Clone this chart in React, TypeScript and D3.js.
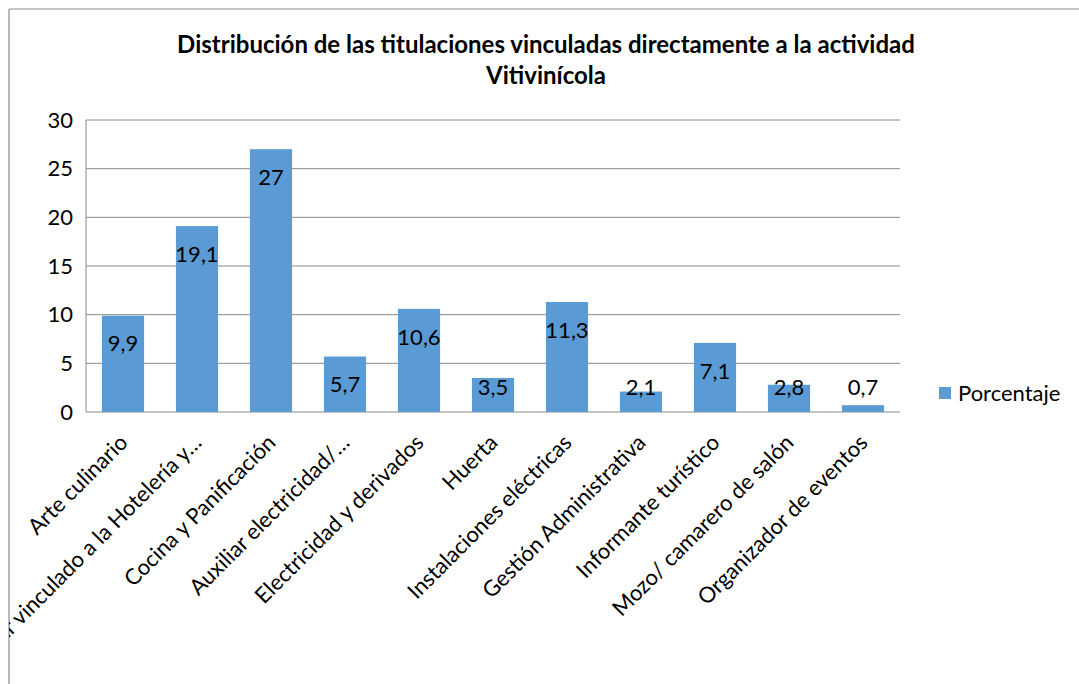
import React from "react";
import * as d3 from "d3";

const categories = [
  "Arte culinario",
  "Auxiliar vinculado a la Hotelería y…",
  "Cocina y Panificación",
  "Auxiliar electricidad/…",
  "Electricidad y derivados",
  "Huerta",
  "Instalaciones eléctricas",
  "Gestión Administrativa",
  "Informante turístico",
  "Mozo/ camarero de salón",
  "Organizador de eventos",
];
const values = [9.9, 19.1, 27, 5.7, 10.6, 3.5, 11.3, 2.1, 7.1, 2.8, 0.7];
const valueLabels = ["9,9", "19,1", "27", "5,7", "10,6", "3,5", "11,3", "2,1", "7,1", "2,8", "0,7"];
const yTicks = [0, 5, 10, 15, 20, 25, 30];
const titleLines = [
  "Distribución de las titulaciones vinculadas directamente a la actividad",
  "Vitivinícola",
];
const seriesName = "Porcentaje";

const FONT = "Lato, 'Liberation Sans', sans-serif";
const BAR = "#5B9BD5";

export default function App() {
  const W = 1079, H = 684;
  const left = 86, right = 900, top = 120, bottom = 412;
  const x = d3.scaleBand<string>().domain(categories).range([left, right]).paddingInner(0.43).paddingOuter(0.215);
  const y = d3.scaleLinear().domain([0, 30]).range([bottom, top]);
  return (
    <svg width={W} height={H} style={{ position: "absolute", left: 0, top: 0, background: "#fff" }} fontFamily={FONT}>
      <defs>
        <clipPath id="frameClip">
          <rect x={9} y={9} width={W} height={H} />
        </clipPath>
      </defs>
      <rect x={0} y={0} width={W} height={H} fill="#fff" />
      <line x1={9} y1={9} x2={W} y2={9} stroke="#8c8c8c" strokeWidth={1.2} />
      <line x1={9} y1={9} x2={9} y2={H} stroke="#8c8c8c" strokeWidth={1.2} />
      {titleLines.map((t, i) => (
        <text key={i} x={546} y={53 + i * 31} textAnchor="middle" fontWeight="bold" fontSize={24} fill="#000">{t}</text>
      ))}
      {yTicks.map((t) => (
        <g key={t}>
          <line x1={left} x2={right} y1={y(t)} y2={y(t)} stroke="#8a8a8a" strokeWidth={1} />
          <text x={73} y={y(t)} dy="0.35em" textAnchor="end" fontSize={22} fill="#000">{t}</text>
        </g>
      ))}
      <line x1={left} x2={left} y1={top} y2={bottom} stroke="#8a8a8a" strokeWidth={1} />
      {categories.map((c, i) => {
        const bx = x(c)!;
        const bw = x.bandwidth();
        const by = y(values[i]);
        const ly = Math.min(by + 28, 387);
        return (
          <g key={c}>
            <rect x={bx} y={by} width={bw} height={bottom - by} fill={BAR} />
            <text x={bx + bw / 2} y={ly} dy="0.35em" textAnchor="middle" fontSize={22} fill="#000">{valueLabels[i]}</text>
          </g>
        );
      })}
      <g clipPath="url(#frameClip)">
        {categories.map((c) => {
          const cx = x(c)! + x.bandwidth() / 2;
          return (
            <text key={c} transform={`translate(${cx + 6},${444}) rotate(-45)`} textAnchor="end" fontSize={22} fill="#000">{c}</text>
          );
        })}
      </g>
      <rect x={939} y={387} width={12} height={12} fill={BAR} />
      <text x={958} y={393} dy="0.35em" fontSize={22} fill="#000">{seriesName}</text>
    </svg>
  );
}
